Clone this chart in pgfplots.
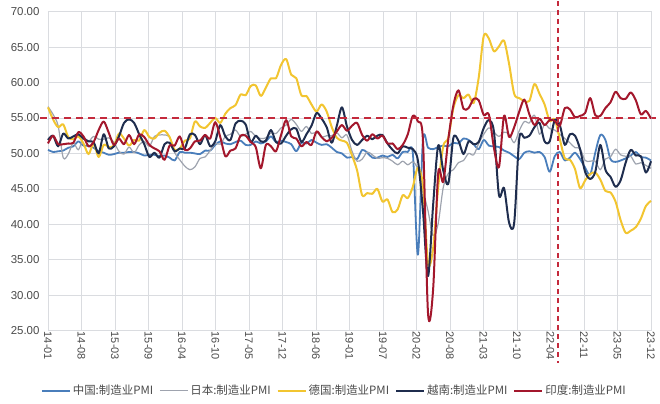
\documentclass[border=0pt]{standalone}
\usepackage{pgfplots}
\pgfplotsset{compat=1.18}
\usepackage{pgfplotstable}
\usepackage{fontspec}
\setmainfont{Liberation Sans}
\newfontfamily\cjk{Noto Sans CJK SC}
\definecolor{cncol}{HTML}{4A7EBB}
\definecolor{jpcol}{HTML}{9EA3AE}
\definecolor{decol}{HTML}{F2C530}
\definecolor{vncol}{HTML}{1F2D4E}
\definecolor{incol}{HTML}{A3172C}
\definecolor{dashcol}{HTML}{C42A3C}
\definecolor{gridcol}{HTML}{DADCE0}
\definecolor{tickcol}{HTML}{4A4A4A}

\pgfplotstableread{
m cn jp de vn ind
0 50.5 56.6 56.5 51.9 51.4
1 50.2 55.5 54.8 52.5 52.5
2 50.3 53.9 53.7 51.0 51.3
3 50.4 49.4 54.1 52.8 51.3
4 50.8 49.9 52.3 52.1 51.4
5 51.0 51.5 52.0 52.4 51.5
6 51.7 50.5 52.4 52.7 53.0
7 51.1 52.2 51.4 52.1 52.4
8 51.1 51.7 49.9 51.7 51.0
9 50.8 52.4 51.4 51.6 51.6
10 50.3 52.0 49.5 50.0 53.3
11 50.1 52.0 51.2 52.7 54.5
12 49.8 52.2 50.9 50.7 52.9
13 49.9 51.6 51.1 51.0 51.2
14 50.1 50.3 52.8 52.4 52.1
15 50.1 49.9 52.1 54.3 51.3
16 50.2 50.9 51.1 54.8 52.6
17 50.2 50.1 51.9 54.3 51.3
18 50.0 51.2 51.8 52.7 52.7
19 49.7 51.7 53.3 51.3 52.3
20 49.8 51.0 52.3 49.5 51.2
21 49.8 52.4 52.1 50.1 50.7
22 49.6 52.6 52.9 49.4 50.3
23 49.7 52.6 53.2 51.3 49.1
24 49.4 52.3 52.3 51.5 51.1
25 49.0 50.1 50.5 50.3 51.1
26 50.2 49.1 50.7 50.7 52.4
27 50.1 48.2 51.8 50.7 50.5
28 50.1 47.7 52.1 52.7 50.7
29 50.0 48.1 54.5 52.6 51.7
30 49.9 49.3 53.8 51.3 51.8
31 50.4 49.5 53.6 52.6 52.6
32 50.4 50.4 54.3 51.0 52.1
33 51.2 51.4 55.0 51.7 54.4
34 51.7 51.3 54.3 54.0 52.3
35 51.4 52.4 55.6 52.4 49.6
36 51.3 52.7 56.4 51.9 50.4
37 51.6 53.3 56.8 54.2 50.7
38 51.8 52.4 58.3 54.6 52.5
39 51.2 52.7 58.2 54.1 52.5
40 51.2 53.1 59.5 51.6 51.6
41 51.7 52.4 59.6 52.5 50.9
42 51.4 52.1 58.1 51.7 47.9
43 51.7 52.2 59.3 51.8 51.2
44 52.4 52.9 60.6 53.3 51.0
45 51.6 52.8 60.6 51.6 50.3
46 51.8 53.6 62.5 51.4 52.6
47 51.6 54.0 63.3 52.5 54.7
48 51.3 54.8 61.1 53.4 52.4
49 50.3 54.1 60.6 53.5 52.1
50 51.5 53.1 58.2 51.6 51.0
51 51.4 53.8 58.1 52.7 51.6
52 51.9 52.8 56.9 53.9 51.2
53 51.5 53.0 55.9 55.7 53.1
54 51.2 52.3 56.9 54.9 52.3
55 51.3 52.5 55.9 53.7 51.7
56 50.8 52.5 53.7 51.5 52.2
57 50.2 52.9 52.2 53.9 53.1
58 50.0 52.2 51.8 56.5 54.0
59 49.4 52.6 51.5 53.8 53.2
60 49.5 50.3 49.7 51.9 53.9
61 49.2 48.9 47.6 51.2 54.3
62 50.5 49.2 44.1 51.9 52.6
63 50.1 50.2 44.4 52.5 51.8
64 49.4 49.8 44.3 52.0 52.7
65 49.4 49.3 45.0 52.5 52.1
66 49.7 49.4 43.2 52.6 52.5
67 49.5 49.3 43.5 51.4 51.4
68 49.8 48.9 41.7 50.5 51.4
69 49.3 48.4 42.1 50.0 50.6
70 50.2 48.9 44.1 51.0 51.2
71 50.2 48.4 43.7 50.8 52.7
72 50.0 48.8 45.3 50.6 55.3
73 35.7 47.8 48.0 49.0 54.5
74 52.0 44.8 45.4 41.9 51.8
75 50.8 41.9 34.5 32.7 27.4
76 50.6 38.4 36.6 42.7 30.8
77 50.9 40.1 45.2 51.1 47.2
78 51.1 45.2 51.0 47.6 46.0
79 51.0 47.2 52.2 45.7 52.0
80 51.5 47.7 56.4 52.2 56.8
81 51.4 48.7 58.2 51.8 58.9
82 52.1 49.0 57.8 49.9 56.3
83 51.9 50.0 58.3 51.7 56.4
84 51.3 49.8 57.1 51.3 57.7
85 50.6 51.4 60.7 51.6 57.5
86 51.9 52.7 66.6 53.6 55.4
87 51.1 53.6 66.2 54.7 55.5
88 51.0 53.0 64.4 53.1 50.8
89 50.9 52.4 65.1 44.1 48.1
90 50.4 53.0 65.9 45.1 55.3
91 50.1 52.7 62.6 40.2 52.3
92 49.6 51.5 58.4 40.2 53.7
93 49.2 53.2 57.8 52.1 55.9
94 50.1 54.5 57.4 52.2 57.6
95 50.3 54.3 57.4 52.5 55.5
96 50.1 55.4 59.8 53.7 54.0
97 50.2 52.7 58.4 54.3 54.9
98 49.5 54.1 56.9 51.7 54.0
99 47.4 53.5 54.6 51.7 54.7
100 49.6 53.3 54.8 54.7 54.6
101 50.2 52.7 52.0 54.0 53.9
102 49.0 52.1 49.3 51.2 56.4
103 49.4 51.5 49.1 52.7 56.2
104 50.1 50.8 47.8 52.5 55.1
105 49.2 50.7 45.1 50.6 55.3
106 48.0 49.0 46.2 47.4 55.7
107 47.0 48.9 47.1 46.4 57.8
108 50.1 48.9 47.3 47.4 55.4
109 52.6 47.7 46.3 51.2 55.3
110 51.9 49.2 44.7 47.7 56.4
111 49.2 49.5 44.5 46.7 57.2
112 48.8 50.6 43.2 45.3 58.7
113 49.0 49.8 40.6 46.2 57.8
114 49.3 49.6 38.8 48.7 57.7
115 49.7 49.6 39.1 50.5 58.6
116 50.2 48.5 39.6 49.7 57.5
117 49.5 48.7 40.8 49.6 55.5
118 49.4 48.3 42.6 47.3 56.0
119 49.0 47.9 43.3 48.9 54.9
}\pmidata

\begin{document}
\begin{tikzpicture}
\begin{axis}[
  at={(0,0)}, anchor=south west,
  scale only axis, width=603bp, height=319bp,
  xmin=0, xmax=119, ymin=25, ymax=70,
  clip=false,
  ytick={25,30,...,70},
  xtick={0,6.6111,13.2222,19.8333,26.4444,33.0556,39.6667,46.2778,52.8889,59.5,66.1111,72.7222,79.3333,85.9444,92.5556,99.1667,105.7778,112.3889,119},
  xticklabels={14-01,14-08,15-03,15-09,16-04,16-10,17-05,17-12,18-06,19-01,19-07,20-02,20-08,21-03,21-10,22-04,22-11,23-05,23-12},
  xticklabel style={rotate=-90, anchor=west, font=\fontsize{11}{12}\selectfont, text=tickcol, inner xsep=1bp},
  yticklabel style={font=\fontsize{11.5}{12}\selectfont, text=tickcol, xshift=-5bp},
  /pgf/number format/.cd, fixed, fixed zerofill, precision=2, assume math mode=true,
  /pgfplots/.cd,
  grid=major,
  major grid style={gridcol, line width=0.7bp},
  axis line style={gridcol, line width=0.7bp},
  major tick length=0pt,
  legend columns=5,
  legend image code/.code={\draw[#1] (0bp,0bp) -- (28bp,0bp);},
  legend style={at={(0.475,-0.188)}, anchor=center, draw=none, fill=none,
    font=\cjk\fontsize{11.5}{13}\selectfont, text=tickcol,
    /tikz/every even column/.append style={column sep=4bp},
    inner sep=0pt},
  every axis plot/.append style={smooth, tension=0.5, line join=round},
]
\addplot[cncol, line width=1.8bp] table[x=m, y=cn] {\pmidata};
\addlegendentry{中国:制造业PMI}
\addplot[jpcol, line width=1.2bp] table[x=m, y=jp] {\pmidata};
\addlegendentry{日本:制造业PMI}
\addplot[decol, line width=2bp] table[x=m, y=de] {\pmidata};
\addlegendentry{德国:制造业PMI}
\addplot[vncol, line width=2bp] table[x=m, y=vn] {\pmidata};
\addlegendentry{越南:制造业PMI}
\addplot[incol, line width=2bp] table[x=m, y=ind] {\pmidata};
\addlegendentry{印度:制造业PMI}
\addplot[forget plot, sharp plot, dashcol, line width=1.6bp, dash pattern=on 7bp off 5bp] coordinates {(-1.6,55) (120,55)};
\addplot[forget plot, sharp plot, dashcol, line width=2bp, dash pattern=on 5bp off 4bp] coordinates {(100.7,71.5) (100.7,20.4)};
\end{axis}
\path (-48bp,-73bp) rectangle (612bp,330bp);
\end{tikzpicture}
\end{document}
